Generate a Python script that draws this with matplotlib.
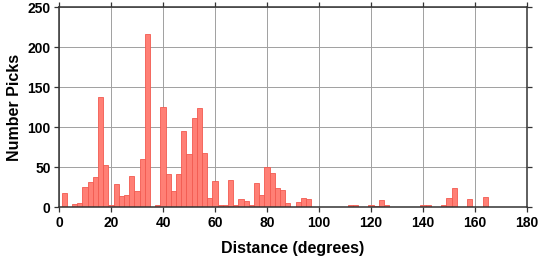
import matplotlib
matplotlib.use("Agg")
import matplotlib.pyplot as plt

# histogram of pick distances, 2-degree bins centred on even degrees
bin_centres = [2, 6, 8, 10, 12, 14, 16, 18, 20, 22, 24, 26, 28, 30, 32, 34,
               38, 40, 42, 44, 46, 48, 50, 52, 54, 56, 58, 60, 62, 64, 66, 68,
               70, 72, 74, 76, 78, 80, 82, 84, 86, 88, 92, 94, 96,
               112, 114, 120, 122, 124, 126, 140, 142, 148, 150, 152, 158, 164]
counts = [18, 4, 6, 26, 32, 38, 138, 53, 3, 29, 14, 16, 39, 21, 61, 217,
          3, 126, 42, 21, 42, 95, 67, 112, 124, 68, 12, 33, 3, 3, 34, 3,
          10, 8, 3, 30, 15, 50, 43, 24, 22, 5, 7, 12, 10,
          3, 3, 3, 2, 9, 3, 3, 3, 3, 12, 24, 10, 13]
bin_width = 2

x_ticks = list(range(0, 181, 20))
y_ticks = list(range(0, 251, 50))

plt.rcParams["font.family"] = ["Liberation Sans", "DejaVu Sans"]
plt.rcParams["font.weight"] = "bold"

fig = plt.figure(figsize=(5.38, 2.58), dpi=100)
ax = fig.add_axes([0.1097, 0.1965, 0.8699, 0.7752])

ax.bar(bin_centres, counts, width=bin_width, align="center",
       facecolor="#ff7f75", edgecolor="#f25a50", linewidth=0.6, zorder=3)

ax.set_xlim(0, 180)
ax.set_ylim(0, 250)
ax.set_xticks(x_ticks)
ax.set_yticks(y_ticks)
ax.grid(True, color="#a0a0a0", linewidth=0.7, zorder=0)
ax.set_axisbelow(True)

for sp in ax.spines.values():
    sp.set_color("#333333")
    sp.set_linewidth(1.1)
    sp.set_zorder(5)

ax.tick_params(axis="both", which="both", direction="out", length=3.5,
               width=0.9, color="#333333", labelsize=10,
               top=True, right=True, labeltop=False, labelright=False, pad=2.5)
for lab in ax.get_xticklabels() + ax.get_yticklabels():
    lab.set_fontweight("bold")

ax.set_xlabel("Distance (degrees)", fontsize=11.5, fontweight="bold", labelpad=8)
ax.set_ylabel("Number Picks", fontsize=11.5, fontweight="bold", labelpad=4)

fig.savefig("out.png", dpi=100)
